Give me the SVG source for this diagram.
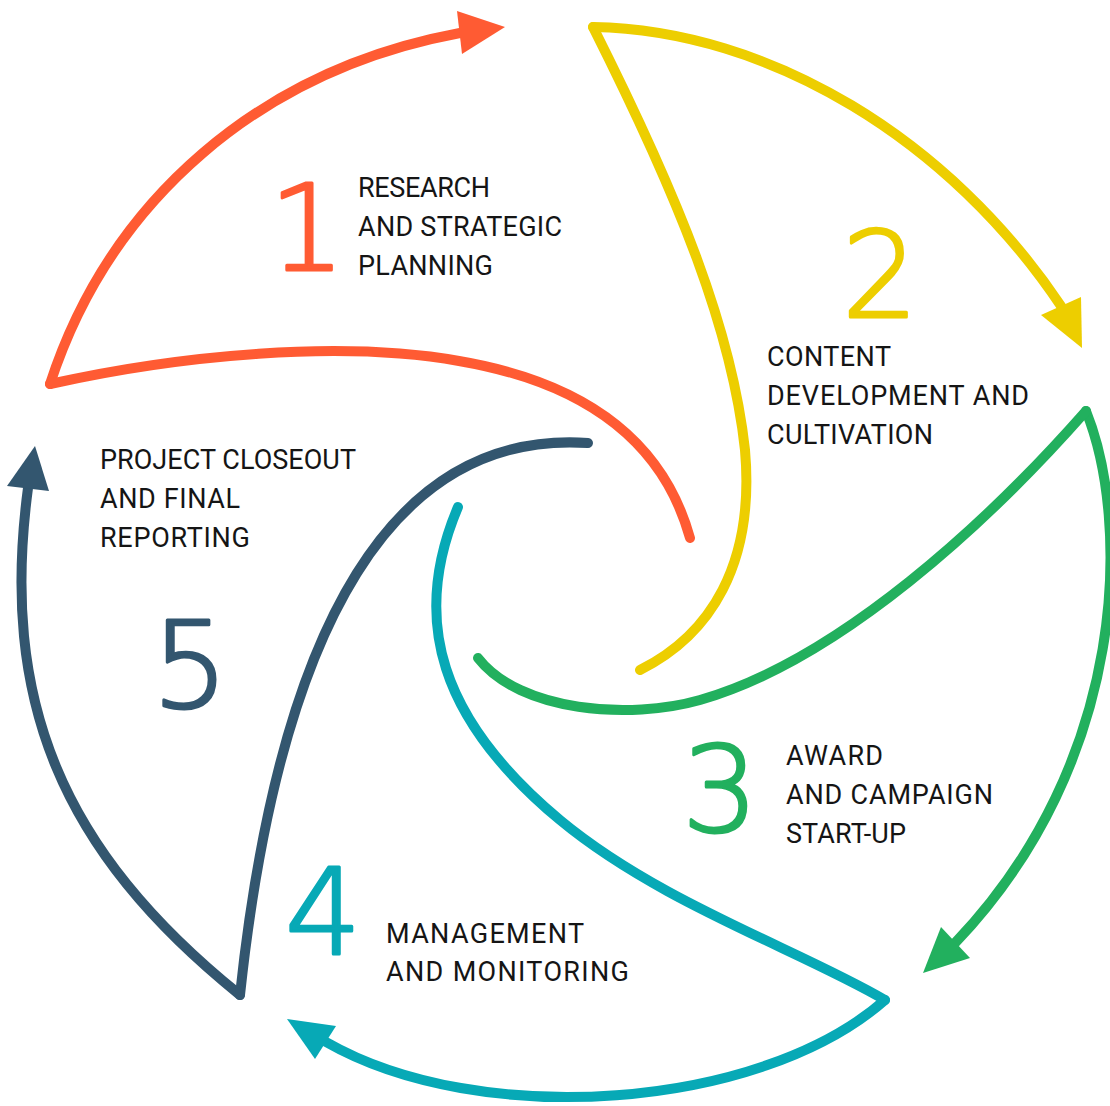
<svg xmlns="http://www.w3.org/2000/svg" width="1110" height="1106" viewBox="0 0 1110 1106">
  <style>
    .blade { fill: none; stroke-width: 10; stroke-linecap: round; stroke-linejoin: round; }
    .label { font-family: Roboto, "Liberation Sans", sans-serif; font-size: 27px; fill: #151515; }
    .num { font-family: "DejaVu Sans", "Liberation Sans", sans-serif; font-size: 120px; font-weight: 200; stroke-width: 3; stroke-linejoin: round; }
    .c1 { stroke: #FF5B33; } .f1 { fill: #FF5B33; }
    .c2 { stroke: #EDCE00; } .f2 { fill: #EDCE00; }
    .c3 { stroke: #22B05E; } .f3 { fill: #22B05E; }
    .c4 { stroke: #07A9B6; } .f4 { fill: #07A9B6; }
    .c5 { stroke: #33566F; } .f5 { fill: #33566F; }
  </style>
  <rect width="1110" height="1106" fill="#ffffff"/>

  <!-- outer arcs leading from each stage to the next -->
  <g id="connectors">
    <path class="blade c1" d="M 50 384 C 110 200, 260 70, 460 33"/>
    <polygon class="f1" points="457,11 505,27 462,54"/>
    <path class="blade c2" d="M 593 27 C 770 30, 950 140, 1061 306"/>
    <polygon class="f2" points="1041,315 1081,297 1082,348"/>
    <path class="blade c3" d="M 1086 411 C 1130 520, 1130 760, 955 943"/>
    <polygon class="f3" points="941,927 970,958 923,973"/>
    <path class="blade c4" d="M 885 1000 C 760 1110, 480 1130, 326 1042"/>
    <polygon class="f4" points="287,1019 336,1026 315,1059"/>
    <path class="blade c5" d="M 240 995 C 60 850, 0 700, 28 488"/>
    <polygon class="f5" points="35,446 7,486 49,491"/>
  </g>

  <g id="stage-1">
    <path class="blade c1" d="M 690 538 C 660 430, 570 380, 459 361 C 340 340, 180 355, 50 384"/>
    <text class="num f1 c1" x="269" y="270">1</text>
    <text class="label" x="358" y="197" textLength="132" lengthAdjust="spacing">RESEARCH</text>
    <text class="label" x="358" y="236" textLength="204" lengthAdjust="spacing">AND STRATEGIC</text>
    <text class="label" x="358" y="275" textLength="135" lengthAdjust="spacing">PLANNING</text>
  </g>

  <g id="stage-2">
    <path class="blade c2" d="M 640 670 C 710 635, 755 565, 745 450 C 732 330, 680 200, 593 27"/>
    <text class="num f2 c2" x="842" y="317">2</text>
    <text class="label" x="767" y="366" textLength="124" lengthAdjust="spacing">CONTENT</text>
    <text class="label" x="767" y="405" textLength="262" lengthAdjust="spacing">DEVELOPMENT AND</text>
    <text class="label" x="767" y="444" textLength="166" lengthAdjust="spacing">CULTIVATION</text>
  </g>

  <g id="stage-3">
    <path class="blade c3" d="M 478 658 C 520 712, 630 720, 700 700 C 840 660, 990 520, 1086 411"/>
    <text class="num f3 c3" x="682" y="831">3</text>
    <text class="label" x="786" y="765" textLength="97" lengthAdjust="spacing">AWARD</text>
    <text class="label" x="786" y="804" textLength="207" lengthAdjust="spacing">AND CAMPAIGN</text>
    <text class="label" x="786" y="843" textLength="120" lengthAdjust="spacing">START-UP</text>
  </g>

  <g id="stage-4">
    <path class="blade c4" d="M 458 507 C 410 620, 440 720, 560 820 C 660 903, 800 950, 885 1000"/>
    <text class="num f4 c4" x="285" y="954">4</text>
    <text class="label" x="386" y="943" textLength="198" lengthAdjust="spacing">MANAGEMENT</text>
    <text class="label" x="386" y="981" textLength="243" lengthAdjust="spacing">AND MONITORING</text>
  </g>

  <g id="stage-5">
    <path class="blade c5" d="M 588 443 C 395 430, 280 620, 240 995"/>
    <text class="num f5 c5" x="152" y="707">5</text>
    <text class="label" x="100" y="469" textLength="256" lengthAdjust="spacing">PROJECT CLOSEOUT</text>
    <text class="label" x="100" y="508" textLength="140" lengthAdjust="spacing">AND FINAL</text>
    <text class="label" x="100" y="547" textLength="150" lengthAdjust="spacing">REPORTING</text>
  </g>
</svg>
